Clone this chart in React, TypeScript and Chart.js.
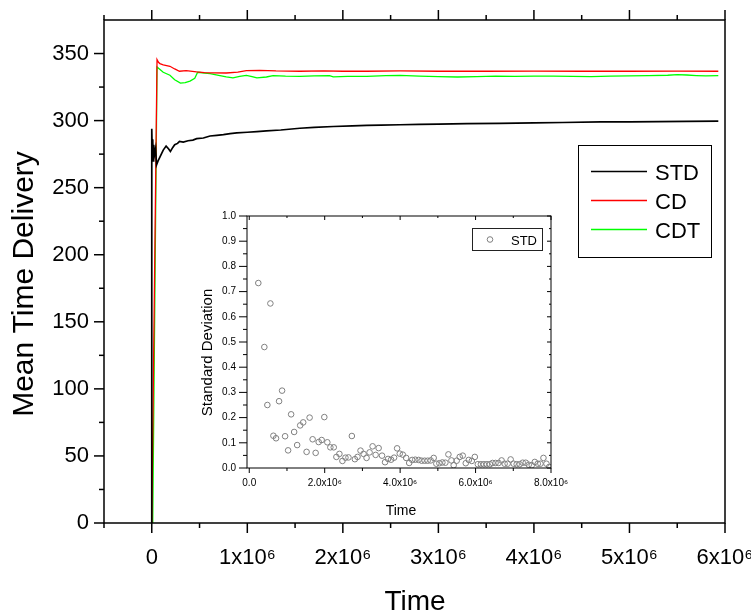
import React, { useEffect, useRef } from 'react';
import { Chart, registerables } from 'chart.js';

Chart.register(...registerables);

const FONT = '"Liberation Sans", Arial, Helvetica, sans-serif';
const M = 1e6;

// ---------- main chart: time in units of 10^6 ----------
const stdTime = [0, 0, 0.005, 0.01, 0.015, 0.02, 0.03, 0.04, 0.05, 0.066, 0.08, 0.1, 0.12, 0.15, 0.175, 0.195, 0.22, 0.24, 0.27, 0.29, 0.33, 0.38, 0.43, 0.47, 0.54, 0.61, 0.68, 0.75, 0.82, 0.89, 1.0, 1.1, 1.2, 1.35, 1.55, 1.7, 1.9, 2.1, 2.25, 2.4, 2.6, 2.8, 3.0, 3.3, 3.64, 4.0, 4.3, 4.7, 5.0, 5.3, 5.6, 5.93];
const stdDelivery = [0, 294, 276, 286, 270, 282, 275, 279, 267, 270, 272, 275, 278, 281, 279, 277, 280, 282, 283, 284.5, 284, 285, 285.5, 286.5, 287, 288.5, 289, 289.5, 290.3, 290.8, 291.3, 291.8, 292.3, 293, 294.3, 295, 295.6, 296, 296.4, 296.6, 296.9, 297.2, 297.4, 297.7, 298, 298.3, 298.6, 299, 299, 299.2, 299.4, 299.6];

const cdTime = [0, 0.055, 0.07, 0.085, 0.12, 0.19, 0.24, 0.29, 0.36, 0.47, 0.55, 0.64, 0.78, 0.9, 0.99, 1.13, 1.3, 1.55, 1.8, 2.0, 2.25, 2.6, 3.0, 3.5, 4.0, 4.5, 5.0, 5.5, 5.93];
const cdDelivery = [0, 345.5, 343.5, 342.5, 341.5, 340.5, 338.5, 336.8, 337.3, 336.3, 335.8, 335.6, 335.5, 336.2, 337.2, 337.5, 337, 336.8, 337, 336.8, 336.8, 337, 336.8, 336.8, 336.9, 336.8, 336.8, 336.9, 336.8];

const cdtTime = [0.01, 0.055, 0.08, 0.12, 0.19, 0.24, 0.3, 0.35, 0.4, 0.45, 0.48, 0.55, 0.61, 0.7, 0.78, 0.85, 0.92, 0.99, 1.05, 1.1, 1.2, 1.27, 1.4, 1.55, 1.7, 1.86, 1.9, 2.05, 2.25, 2.45, 2.6, 2.8, 3.0, 3.2, 3.4, 3.6, 3.8, 4.0, 4.2, 4.4, 4.6, 4.8, 5.0, 5.2, 5.4, 5.5, 5.6, 5.7, 5.8, 5.93];
const cdtDelivery = [0, 340, 338.5, 336, 333.8, 330.5, 328, 328.3, 329.5, 331.5, 336, 335.5, 335, 333.8, 332.6, 331.8, 333, 333.7, 332.8, 331.8, 332.5, 333.6, 333.2, 333, 333.3, 333.6, 332.6, 333, 333, 333.5, 333.7, 333.2, 332.8, 332.5, 332.8, 333.2, 333, 333.1, 333.2, 333, 332.8, 333.2, 333.3, 333.5, 333.8, 334.3, 334, 333.6, 333.3, 333.6];

const seriesNames = ['STD', 'CD', 'CDT'];
const seriesColors = ['#000000', '#ff0000', '#00ff00'];

const mainXTicks = [0, 1 * M, 2 * M, 3 * M, 4 * M, 5 * M, 6 * M];
const mainXTickLabels = ['0', '1x10\u2076', '2x10\u2076', '3x10\u2076', '4x10\u2076', '5x10\u2076', '6x10\u2076'];
const mainXMinorTicks = [-0.5 * M, 0.5 * M, 1.5 * M, 2.5 * M, 3.5 * M, 4.5 * M, 5.5 * M];
const mainYTicks = [0, 50, 100, 150, 200, 250, 300, 350];
const mainYTickLabels = ['0', '50', '100', '150', '200', '250', '300', '350'];
const mainYMinorTicks = [25, 75, 125, 175, 225, 275, 325];

// ---------- inset: standard deviation (time in units of 10^6) ----------
const insetTime = [0.24, 0.40, 0.48, 0.56, 0.64, 0.71, 0.79, 0.87, 0.95, 1.03, 1.11, 1.19, 1.27, 1.35, 1.43, 1.52, 1.60, 1.68, 1.76, 1.84, 1.92, 1.99, 2.07, 2.15, 2.24, 2.31, 2.39, 2.47, 2.55, 2.63, 2.72, 2.80, 2.87, 2.95, 3.03, 3.11, 3.19, 3.27, 3.35, 3.43, 3.52, 3.60, 3.68, 3.76, 3.84, 3.92, 3.99, 4.07, 4.16, 4.24, 4.32, 4.40, 4.49, 4.57, 4.65, 4.73, 4.81, 4.89, 4.96, 5.04, 5.12, 5.20, 5.28, 5.36, 5.42, 5.50, 5.58, 5.66, 5.74, 5.82, 5.90, 5.98, 6.06, 6.14, 6.22, 6.30, 6.38, 6.45, 6.53, 6.61, 6.69, 6.77, 6.85, 6.93, 7.01, 7.09, 7.17, 7.25, 7.33, 7.41, 7.49, 7.57, 7.65, 7.72, 7.80, 7.88, 7.95];
const insetStd = [0.734, 0.48, 0.25, 0.653, 0.128, 0.118, 0.265, 0.307, 0.126, 0.07, 0.213, 0.143, 0.091, 0.169, 0.181, 0.064, 0.2, 0.114, 0.06, 0.103, 0.111, 0.202, 0.102, 0.082, 0.082, 0.044, 0.056, 0.028, 0.041, 0.042, 0.127, 0.035, 0.044, 0.069, 0.056, 0.04, 0.062, 0.086, 0.052, 0.079, 0.049, 0.023, 0.036, 0.033, 0.041, 0.078, 0.057, 0.053, 0.04, 0.02, 0.032, 0.033, 0.032, 0.029, 0.029, 0.029, 0.03, 0.04, 0.017, 0.019, 0.022, 0.021, 0.054, 0.03, 0.011, 0.029, 0.044, 0.049, 0.019, 0.032, 0.028, 0.044, 0.015, 0.015, 0.015, 0.015, 0.015, 0.02, 0.02, 0.02, 0.03, 0.017, 0.017, 0.034, 0.017, 0.015, 0.015, 0.021, 0.021, 0.013, 0.011, 0.024, 0.017, 0.017, 0.04, 0.017, 0.004];

const insetXTicks = [0, 2 * M, 4 * M, 6 * M, 8 * M];
const insetXTickLabels = ['0.0', '2.0x10\u2076', '4.0x10\u2076', '6.0x10\u2076', '8.0x10\u2076'];
const insetXMinorTicks = [1 * M, 3 * M, 5 * M, 7 * M];
const insetYTicks = [0, 0.1, 0.2, 0.3, 0.4, 0.5, 0.6, 0.7, 0.8, 0.9, 1.0];
const insetYTickLabels = ['0.0', '0.1', '0.2', '0.3', '0.4', '0.5', '0.6', '0.7', '0.8', '0.9', '1.0'];
const insetYMinorTicks = [0.05, 0.15, 0.25, 0.35, 0.45, 0.55, 0.65, 0.75, 0.85, 0.95];

type Side = [number, number];
interface FrameSpec {
  lineWidth: number;
  xMajor: number[]; xMinor: number[]; yMajor: number[]; yMinor: number[];
  bottom: Side; top: Side; left: Side; right: Side;
}

function framePlugin(f: FrameSpec) {
  return {
    id: 'frameTicks',
    afterDatasetsDraw(chart: any) {
      const { ctx, chartArea: a } = chart;
      const sx = chart.scales.x;
      const sy = chart.scales.y;
      ctx.save();
      ctx.strokeStyle = '#000';
      ctx.lineWidth = f.lineWidth;
      ctx.strokeRect(a.left, a.top, a.right - a.left, a.bottom - a.top);
      const seg = (x1: number, y1: number, x2: number, y2: number) => {
        ctx.beginPath(); ctx.moveTo(x1, y1); ctx.lineTo(x2, y2); ctx.stroke();
      };
      const doX = (vals: number[], i: number) => vals.forEach((v) => {
        const p = sx.getPixelForValue(v);
        if (p < a.left - 1 || p > a.right + 1) return;
        if (f.bottom[i]) seg(p, a.bottom, p, a.bottom + f.bottom[i]);
        if (f.top[i]) seg(p, a.top, p, a.top - f.top[i]);
      });
      const doY = (vals: number[], i: number) => vals.forEach((v) => {
        const p = sy.getPixelForValue(v);
        if (p < a.top - 1 || p > a.bottom + 1) return;
        if (f.left[i]) seg(a.left, p, a.left - f.left[i], p);
        if (f.right[i]) seg(a.right, p, a.right + f.right[i], p);
      });
      doX(f.xMajor, 0); doX(f.xMinor, 1);
      doY(f.yMajor, 0); doY(f.yMinor, 1);
      ctx.restore();
    },
  };
}

interface TitleSpec { text: string; x: number; y: number; size: number; rotate: boolean }
function titlesPlugin(titles: TitleSpec[]) {
  return {
    id: 'axisTitles',
    afterDraw(chart: any) {
      const { ctx } = chart;
      titles.forEach((t) => {
        ctx.save();
        ctx.fillStyle = '#000';
        ctx.font = `${t.size}px ${FONT}`;
        ctx.textAlign = 'center';
        ctx.textBaseline = 'alphabetic';
        ctx.translate(t.x, t.y);
        if (t.rotate) ctx.rotate(-Math.PI / 2);
        ctx.fillText(t.text, 0, 0);
        ctx.restore();
      });
    },
  };
}

const mainLegendPlugin = {
  id: 'mainLegend',
  afterDraw(chart: any) {
    const { ctx } = chart;
    ctx.save();
    ctx.fillStyle = '#fff';
    ctx.fillRect(578, 145, 133, 112);
    ctx.strokeStyle = '#000';
    ctx.lineWidth = 1;
    ctx.strokeRect(578.5, 145.5, 133, 112);
    const rows = [171.5, 200.5, 229.5];
    ctx.font = `22px ${FONT}`;
    ctx.textBaseline = 'alphabetic';
    ctx.textAlign = 'left';
    chart.data.datasets.forEach((ds: any, i: number) => {
      ctx.strokeStyle = ds.borderColor;
      ctx.lineWidth = 1.5;
      ctx.beginPath(); ctx.moveTo(591, rows[i]); ctx.lineTo(647, rows[i]); ctx.stroke();
      ctx.fillStyle = '#000';
      ctx.fillText(ds.label, 655, rows[i] + 8.5);
    });
    ctx.restore();
  },
};

const insetLegendPlugin = {
  id: 'insetLegend',
  afterDraw(chart: any) {
    const { ctx } = chart;
    const ds = chart.data.datasets[0];
    ctx.save();
    ctx.fillStyle = '#fff';
    ctx.fillRect(293, 28, 70, 23);
    ctx.strokeStyle = '#222';
    ctx.lineWidth = 1;
    ctx.strokeRect(292.5, 28.5, 70, 22);
    ctx.strokeStyle = ds.borderColor;
    ctx.beginPath(); ctx.arc(310, 39.5, 2.8, 0, Math.PI * 2); ctx.stroke();
    ctx.fillStyle = '#000';
    ctx.font = `13px ${FONT}`;
    ctx.textBaseline = 'alphabetic';
    ctx.fillText(ds.label, 331, 44.5);
    ctx.restore();
  },
};

function lookup(ticks: number[], labels: string[]) {
  return (v: any) => {
    const i = ticks.findIndex((t) => Math.abs(t - Number(v)) < 1e-9 * Math.max(1, Math.abs(t)));
    return i >= 0 ? labels[i] : '';
  };
}

const fixX = (h: number) => (s: any) => { s.height = h; s.paddingLeft = 0; s.paddingRight = 0; };
const fixY = (w: number) => (s: any) => { s.width = w; s.paddingTop = 0; s.paddingBottom = 0; };

export default function App() {
  const mainRef = useRef<HTMLCanvasElement>(null);
  const insetRef = useRef<HTMLCanvasElement>(null);

  useEffect(() => {
    const toPts = (t: number[], v: number[]) => t.map((x, i) => ({ x: x * M, y: v[i] }));
    const times = [stdTime, cdTime, cdtTime];
    const values = [stdDelivery, cdDelivery, cdtDelivery];
    const widths = [1.7, 1.3, 1.3];

    const main = new Chart(mainRef.current!, {
      type: 'line',
      data: {
        datasets: seriesNames.map((name, i) => ({
          label: name,
          data: toPts(times[i], values[i]),
          borderColor: seriesColors[i],
          backgroundColor: seriesColors[i],
          borderWidth: widths[i],
          pointRadius: 0,
          tension: 0,
          fill: false,
        })),
      },
      options: {
        responsive: false,
        animation: false,
        events: [],
        layout: { padding: { left: 0, top: 20, right: 26, bottom: 0 }, autoPadding: false },
        plugins: { legend: { display: false }, tooltip: { enabled: false } },
        scales: {
          x: {
            type: 'linear',
            min: -0.5 * M,
            max: 6 * M,
            afterBuildTicks: (s: any) => { s.ticks = mainXTicks.map((v) => ({ value: v })); },
            afterFit: fixX(89),
            grid: { display: false, drawTicks: true, tickLength: 10 },
            border: { display: false },
            ticks: {
              autoSkip: false, maxRotation: 0, padding: 12, color: '#000',
              font: { family: FONT, size: 22 },
              callback: lookup(mainXTicks, mainXTickLabels),
            },
          },
          y: {
            type: 'linear',
            min: 0,
            max: 375,
            afterBuildTicks: (s: any) => { s.ticks = mainYTicks.map((v) => ({ value: v })); },
            afterFit: fixY(104),
            grid: { display: false, drawTicks: true, tickLength: 10 },
            border: { display: false },
            ticks: {
              autoSkip: false, padding: 5, color: '#000',
              font: { family: FONT, size: 22 },
              callback: lookup(mainYTicks, mainYTickLabels),
            },
          },
        },
      },
      plugins: [
        framePlugin({
          lineWidth: 1.5,
          xMajor: mainXTicks, xMinor: mainXMinorTicks, yMajor: mainYTicks, yMinor: mainYMinorTicks,
          bottom: [10, 5], top: [10, 5], left: [10, 5], right: [0, 0],
        }),
        titlesPlugin([
          { text: 'Mean Time Delivery', x: 33, y: 284, size: 30, rotate: true },
          { text: 'Time', x: 415, y: 610, size: 28, rotate: false },
        ]),
        mainLegendPlugin,
      ],
    } as any);

    const inset = new Chart(insetRef.current!, {
      type: 'scatter',
      data: {
        datasets: [{
          label: 'STD',
          data: toPts(insetTime, insetStd),
          borderColor: '#808080',
          backgroundColor: 'rgba(0,0,0,0)',
          borderWidth: 1,
          pointRadius: 2.8,
          pointStyle: 'circle',
        }],
      },
      options: {
        responsive: false,
        animation: false,
        events: [],
        layout: { padding: { left: 0, top: 16, right: 19, bottom: 0 }, autoPadding: false },
        plugins: { legend: { display: false }, tooltip: { enabled: false } },
        scales: {
          x: {
            type: 'linear',
            min: -0.06 * M,
            max: 8 * M,
            afterBuildTicks: (s: any) => { s.ticks = insetXTicks.map((v) => ({ value: v })); },
            afterFit: fixX(52),
            grid: { display: false, drawTicks: true, tickLength: 5 },
            border: { display: false },
            ticks: {
              autoSkip: false, maxRotation: 0, padding: 4, color: '#000',
              font: { family: FONT, size: 10 },
              callback: lookup(insetXTicks, insetXTickLabels),
            },
          },
          y: {
            type: 'linear',
            min: 0,
            max: 1,
            afterBuildTicks: (s: any) => { s.ticks = insetYTicks.map((v) => ({ value: v })); },
            afterFit: fixY(67),
            grid: { display: false, drawTicks: true, tickLength: 8 },
            border: { display: false },
            ticks: {
              autoSkip: false, padding: 3, color: '#000',
              font: { family: FONT, size: 10 },
              callback: lookup(insetYTicks, insetYTickLabels),
            },
          },
        },
      },
      plugins: [
        framePlugin({
          lineWidth: 1,
          xMajor: insetXTicks, xMinor: insetXMinorTicks, yMajor: insetYTicks, yMinor: insetYMinorTicks,
          bottom: [5, 3], top: [-4, -2], left: [8, 4], right: [-4, -2],
        }),
        titlesPlugin([
          { text: 'Standard Deviation', x: 31.5, y: 152.5, size: 15, rotate: true },
          { text: 'Time', x: 221, y: 315, size: 14, rotate: false },
        ]),
        insetLegendPlugin,
      ],
    } as any);

    return () => {
      main.destroy();
      inset.destroy();
    };
  }, []);

  return (
    <div style={{ position: 'fixed', left: 0, top: 0, width: 751, height: 612, background: '#fff' }}>
      <canvas ref={mainRef} width={751} height={612} style={{ position: 'absolute', left: 0, top: 0 }} />
      <canvas ref={insetRef} width={390} height={320} style={{ position: 'absolute', left: 180, top: 200 }} />
    </div>
  );
}
